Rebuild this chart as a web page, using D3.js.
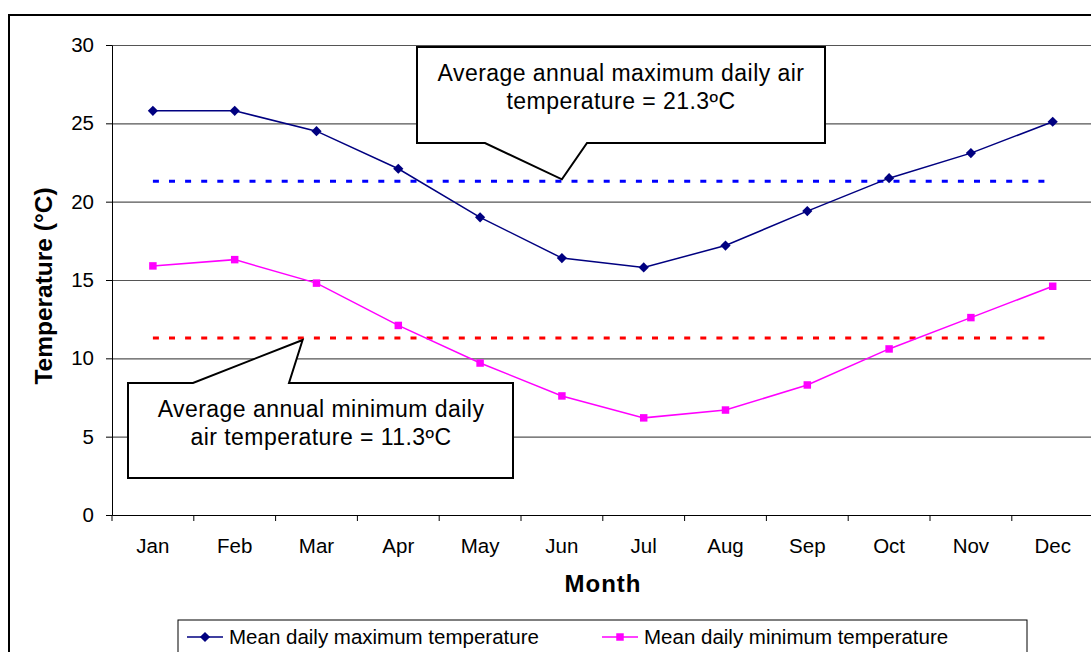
<!DOCTYPE html>
<html>
<head>
<meta charset="utf-8">
<script src="https://cdn.jsdelivr.net/npm/d3@7"></script>
<style>
  body { margin: 0; background: #fff; }
  text { font-family: Arial, "Liberation Sans", sans-serif; fill: #000; }
</style>
</head>
<body>
<div id="chart"></div>
<script>
// chart data
const months = ['Jan', 'Feb', 'Mar', 'Apr', 'May', 'Jun', 'Jul', 'Aug', 'Sep', 'Oct', 'Nov', 'Dec']
const maxTemps = [25.8, 25.8, 24.5, 22.1, 19.0, 16.4, 15.8, 17.2, 19.4, 21.5, 23.1, 25.1]
const minTemps = [15.9, 16.3, 14.8, 12.1, 9.7, 7.6, 6.2, 6.7, 8.3, 10.6, 12.6, 14.6]
const avgMax = 21.3
const avgMin = 11.3
const yTicks = [0, 5, 10, 15, 20, 25, 30]
const seriesNames = ['Mean daily maximum temperature', 'Mean daily minimum temperature']
const calloutMax = ['Average annual maximum daily air', 'temperature = 21.3ºC']
const calloutMin = ['Average annual minimum daily', 'air temperature = 11.3ºC']

const width = 1091
const height = 652
const plot = { left: 112, top: 45, bottom: 515, band: 81.8 }

const svg = d3.select('#chart')
              .append('svg')
              .attr('width', width)
              .attr('height', height)

// outer frame (runs off the picture on right and bottom)
svg.append('rect')
   .attr('x', 9).attr('y', 15)
   .attr('width', 1200).attr('height', 800)
   .attr('fill', 'none').attr('stroke', '#000').attr('stroke-width', 2)

const x = d3.scaleBand()
            .domain(months)
            .range([plot.left, plot.left + plot.band * months.length])
            .padding(0)
const bw = x.bandwidth()
const xc = m => x(m) + bw / 2

const y = d3.scaleLinear()
            .domain([0, 30])
            .range([plot.bottom, plot.top])

// gridlines
svg.append('g')
   .attr('transform', `translate(${plot.left}, 0)`)
   .call(d3.axisLeft(y).tickValues(yTicks).tickSize(-(x.range()[1] - plot.left)).tickFormat(''))
   .call(g => g.select('.domain').remove())
   .call(g => g.selectAll('line').attr('stroke', '#555').attr('stroke-width', 1.2))

// y axis
svg.append('g')
   .attr('transform', `translate(${plot.left}, 0)`)
   .call(d3.axisLeft(y).tickValues(yTicks).tickSize(6).tickSizeOuter(0).tickPadding(12))
   .call(g => g.selectAll('text').attr('font-size', '20.5px').attr('font-family', 'Arial, "Liberation Sans", sans-serif'))
   .call(g => g.selectAll('line, path').attr('stroke', '#000'))

// x axis
svg.append('g')
   .attr('transform', `translate(0, ${plot.bottom})`)
   .call(d3.axisBottom(x).tickSize(0).tickSizeOuter(0).tickPadding(23.5))
   .call(g => g.selectAll('text').attr('font-size', '20.5px').attr('font-family', 'Arial, "Liberation Sans", sans-serif'))
   .call(g => g.select('.domain').attr('stroke', '#000'))

// category tick marks sit between the months
svg.append('g')
   .selectAll('line')
   .data(months)
   .enter()
   .append('line')
   .attr('x1', d => x(d)).attr('x2', d => x(d))
   .attr('y1', plot.bottom).attr('y2', plot.bottom + 6)
   .attr('stroke', '#000')

// average lines
const avgLines = [{ v: avgMax, color: '#0000ff' }, { v: avgMin, color: '#ff0000' }]
svg.append('g')
   .selectAll('line')
   .data(avgLines)
   .enter()
   .append('line')
   .attr('x1', xc(months[0]))
   .attr('x2', xc(months[months.length - 1]) - 8)
   .attr('y1', d => y(d.v)).attr('y2', d => y(d.v))
   .attr('stroke', d => d.color)
   .attr('stroke-width', 3)
   .attr('stroke-dasharray', '6,10.1')

// series lines and markers
const line = d3.line()
               .x((_, i) => xc(months[i]))
               .y(d => y(d))

const series = [
    { values: maxTemps, color: '#000080', symbol: d3.symbolSquare, size: 52, rotate: 45 },
    { values: minTemps, color: '#ff00ff', symbol: d3.symbolSquare, size: 56, rotate: 0 }
]

series.forEach(s => {
    svg.append('path')
       .datum(s.values)
       .attr('fill', 'none')
       .attr('stroke', s.color)
       .attr('stroke-width', 1.5)
       .attr('d', line)

    svg.append('g')
       .selectAll('path')
       .data(s.values)
       .enter()
       .append('path')
       .attr('d', d3.symbol().type(s.symbol).size(s.size))
       .attr('transform', (d, i) => `translate(${xc(months[i])}, ${y(d)}) rotate(${s.rotate})`)
       .attr('fill', s.color)
})

// callouts
const drawCallout = (points, lines, cx, baseline) => {
    svg.append('polygon')
       .attr('points', points.map(p => p.join(',')).join(' '))
       .attr('fill', '#fff')
       .attr('stroke', '#000')
       .attr('stroke-width', 2)
    svg.append('text')
       .attr('text-anchor', 'middle')
       .attr('font-size', '23px')
       .attr('letter-spacing', '0.45px')
       .selectAll('tspan')
       .data(lines)
       .enter()
       .append('tspan')
       .attr('x', cx)
       .attr('y', (_, i) => baseline + i * 28)
       .text(d => d)
}

drawCallout([[417, 47], [825, 47], [825, 143], [587, 143], [xc('Jun'), y(avgMax) - 2],
             [485, 143], [417, 143]], calloutMax, 621, 81)
drawCallout([[128, 383], [193, 383], [x('Mar') + 0.33 * bw, y(avgMin) + 2], [289, 383],
             [513, 383], [513, 478], [128, 478]], calloutMin, 321, 417)

// axis titles
svg.append('text')
   .attr('transform', 'translate(52, 286) rotate(-90)')
   .attr('text-anchor', 'middle')
   .attr('font-size', '24.5px')
   .attr('font-weight', 'bold')
   .text('Temperature (°C)')

svg.append('text')
   .attr('x', 603).attr('y', 592)
   .attr('text-anchor', 'middle')
   .attr('font-size', '24px')
   .attr('font-weight', 'bold')
   .attr('letter-spacing', '1px')
   .text('Month')

// legend
const legend = svg.append('g')
legend.append('rect')
      .attr('x', 178).attr('y', 620)
      .attr('width', 849).attr('height', 100)
      .attr('fill', '#fff').attr('stroke', '#000')

const legendX = [187, 602]
series.forEach((s, i) => {
    const lx = legendX[i]
    legend.append('line')
          .attr('x1', lx).attr('x2', lx + 36)
          .attr('y1', 637).attr('y2', 637)
          .attr('stroke', s.color).attr('stroke-width', 1.5)
    legend.append('path')
          .attr('d', d3.symbol().type(s.symbol).size(s.size))
          .attr('transform', `translate(${lx + 18}, 637) rotate(${s.rotate})`)
          .attr('fill', s.color)
    legend.append('text')
          .attr('x', lx + 42).attr('y', 644)
          .attr('font-size', '20.5px')
          .text(seriesNames[i])
})
</script>
</body>
</html>
